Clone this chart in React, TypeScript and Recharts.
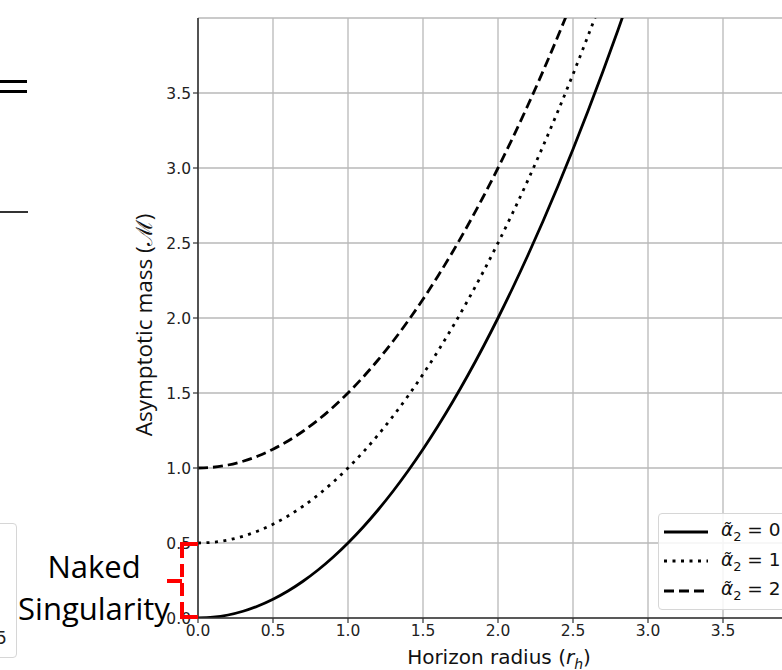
import React from "react";
import { LineChart, Line, XAxis, YAxis, CartesianGrid } from "recharts";

// horizon radius samples
const rh = [0, 0.1, 0.2, 0.3, 0.4, 0.5, 0.6, 0.7, 0.8, 0.9, 1.0, 1.1, 1.2, 1.3, 1.4, 1.5, 1.6, 1.7, 1.8, 1.9, 2.0, 2.1, 2.2, 2.3, 2.4, 2.5, 2.6, 2.7, 2.8, 2.9, 3.0];
const massA0 = [0, 0.005, 0.02, 0.045, 0.08, 0.125, 0.18, 0.245, 0.32, 0.405, 0.5, 0.605, 0.72, 0.845, 0.98, 1.125, 1.28, 1.445, 1.62, 1.805, 2.0, 2.205, 2.42, 2.645, 2.88, 3.125, 3.38, 3.645, 3.92, 4.205, 4.5];
const massA1 = [0.5, 0.505, 0.52, 0.545, 0.58, 0.625, 0.68, 0.745, 0.82, 0.905, 1.0, 1.105, 1.22, 1.345, 1.48, 1.625, 1.78, 1.945, 2.12, 2.305, 2.5, 2.705, 2.92, 3.145, 3.38, 3.625, 3.88, 4.145, 4.42, 4.705, 5.0];
const massA2 = [1.0, 1.005, 1.02, 1.045, 1.08, 1.125, 1.18, 1.245, 1.32, 1.405, 1.5, 1.605, 1.72, 1.845, 1.98, 2.125, 2.28, 2.445, 2.62, 2.805, 3.0, 3.205, 3.42, 3.645, 3.88, 4.125, 4.38, 4.645, 4.92, 5.205, 5.5];

const xTicks = [0, 0.5, 1.0, 1.5, 2.0, 2.5, 3.0, 3.5];
const yTicks = [0, 0.5, 1.0, 1.5, 2.0, 2.5, 3.0, 3.5];

const seriesInfo = [
  { key: "a0", label: "0", dash: undefined as string | undefined },
  { key: "a1", label: "1", dash: "3 5.5" },
  { key: "a2", label: "2", dash: "10 5" },
];

const data = rh.map((r, i) => ({ r, a0: massA0[i], a1: massA1[i], a2: massA2[i] }));

const font = "'DejaVu Sans', sans-serif";
const tickStyle = { fontSize: 15.5, fill: "#222", fontFamily: font };

function LegendBox() {
  return (
    <div
      style={{
        position: "absolute",
        left: 658,
        top: 513,
        border: "1px solid #d6d6d6",
        borderRadius: 4,
        background: "rgba(255,255,255,0.85)",
        padding: "3px 0 3px 5px",
        width: 140,
        fontFamily: font,
        fontSize: 18.5,
        color: "#111",
      }}
    >
      {seriesInfo.map((s) => (
        <div key={s.key} style={{ display: "flex", alignItems: "center", height: 29.5 }}>
          <svg width={48} height={10} style={{ marginRight: 9 }}>
            <line x1={0} y1={5} x2={44} y2={5} stroke="#000" strokeWidth={2.8} strokeDasharray={s.dash} />
          </svg>
          <span>
            <i>α̃</i>
            <sub style={{ fontSize: 13 }}>2</sub> = {s.label}
          </span>
        </div>
      ))}
    </div>
  );
}

export default function App() {
  return (
    <div style={{ position: "absolute", left: 0, top: 0, width: 782, height: 670, overflow: "hidden", background: "#fff" }}>
      {/* leftovers of the neighbouring panel */}
      <div style={{ position: "absolute", left: 0, top: 80, width: 27, height: 3, background: "#000" }} />
      <div style={{ position: "absolute", left: 0, top: 90, width: 27, height: 3, background: "#000" }} />
      <div style={{ position: "absolute", left: 0, top: 211, width: 28, height: 2, background: "#333" }} />
      <div style={{ position: "absolute", left: -20, top: 523, width: 35, height: 133, border: "1px solid #d6d6d6", borderRadius: 4 }} />
      <div style={{ position: "absolute", left: -4, top: 628, fontFamily: font, fontSize: 17, color: "#222" }}>5</div>

      <LineChart width={790} height={670} data={data} margin={{ top: 18, right: 7, left: 138, bottom: 22 }}>
        <CartesianGrid stroke="#b8b8b8" strokeWidth={1.3} />
        <XAxis
          dataKey="r"
          type="number"
          domain={[0, 3.9]}
          ticks={xTicks}
          allowDataOverflow
          tickFormatter={(v: number) => v.toFixed(1)}
          tick={tickStyle}
          tickSize={5}
          height={30}
          axisLine={{ stroke: "#333", strokeWidth: 1.6 }}
          tickLine={{ stroke: "#333", strokeWidth: 1.2 }}
        />
        <YAxis
          type="number"
          domain={[0, 4]}
          ticks={yTicks}
          allowDataOverflow
          tickFormatter={(v: number) => v.toFixed(1)}
          tick={tickStyle}
          tickSize={5}
          width={60}
          axisLine={{ stroke: "#333", strokeWidth: 1.6 }}
          tickLine={{ stroke: "#333", strokeWidth: 1.2 }}
        />
        {seriesInfo.map((s) => (
          <Line
            key={s.key}
            type="monotone"
            dataKey={s.key}
            stroke="#000"
            strokeWidth={2.8}
            strokeDasharray={s.dash}
            dot={false}
            isAnimationActive={false}
          />
        ))}
      </LineChart>

      <LegendBox />

      {/* axis titles */}
      <div style={{ position: "absolute", left: 0, width: 998, top: 645, textAlign: "center", fontFamily: font, fontSize: 20, lineHeight: "24px", color: "#111" }}>
        Horizon radius (<i>r</i>
        <sub style={{ fontSize: 14, lineHeight: 0, fontStyle: "italic" }}>h</sub>)
      </div>
      <div
        style={{
          position: "absolute",
          left: 143,
          top: 325,
          transform: "translate(-50%, -50%) rotate(-90deg)",
          whiteSpace: "nowrap",
          fontFamily: "'Open Sans', sans-serif",
          fontSize: 22.5,
          color: "#111",
        }}
      >
        Asymptotic mass (ℳ)
      </div>

      {/* naked singularity annotation */}
      <svg width={782} height={670} style={{ position: "absolute", left: 0, top: 0, pointerEvents: "none" }}>
        <line x1={182} y1={545} x2={182} y2={617} stroke="#ff0000" strokeWidth={4} strokeDasharray="13 6" />
        <line x1={180} y1={544} x2={198} y2={544} stroke="#ff0000" strokeWidth={4} />
        <line x1={180} y1={617} x2={198} y2={617} stroke="#ff0000" strokeWidth={4} />
        <line x1={167} y1={581} x2={182} y2={581} stroke="#ff0000" strokeWidth={4} />
      </svg>
      <div style={{ position: "absolute", left: 6, width: 176, top: 545, textAlign: "center", fontFamily: "'Open Sans', sans-serif", fontSize: 31, lineHeight: "42px", color: "#000" }}>
        Naked
        <br />
        Singularity
      </div>
    </div>
  );
}
